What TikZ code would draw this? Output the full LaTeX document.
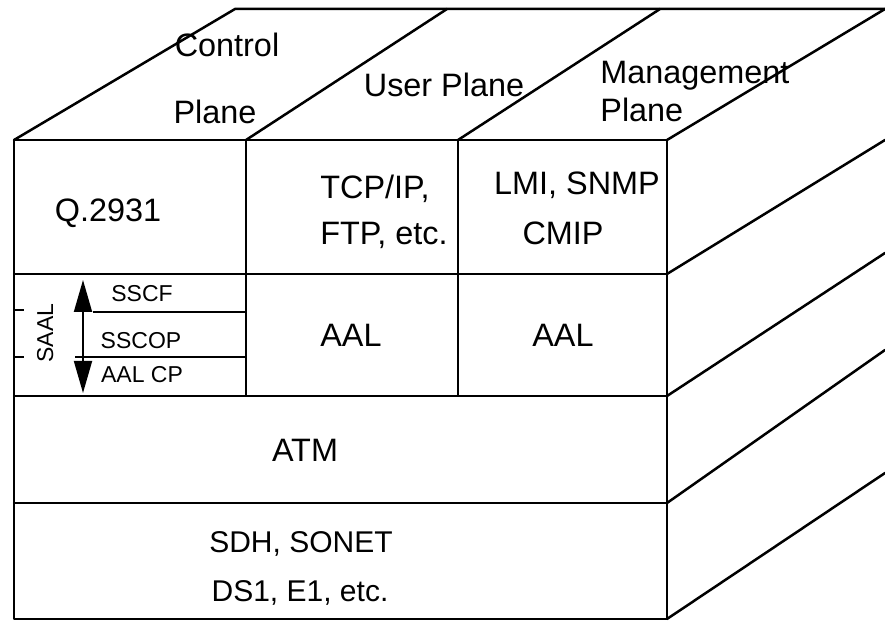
\documentclass[tikz,border=0pt]{standalone}
\usepackage{fontspec}
\setmainfont{Liberation Sans}
\usetikzlibrary{arrows.meta}

\begin{document}
\begin{tikzpicture}[x=0.5pt, y=-0.5pt,
  outline/.style={line width=1.25pt, line join=round, line cap=round},
  inner/.style={line width=0.9pt},
  lbl/.style={inner sep=0pt, text height=11.4pt, text depth=0pt, font=\fontsize{16.2}{19}\selectfont},
  low/.style={lbl, font=\fontsize{15}{18}\selectfont},
  sub/.style={inner sep=0pt, text height=8.2pt, text depth=0pt, font=\fontsize{11.5}{13}\selectfont},
  saal/.style={{Triangle[length=16pt, width=9pt]}-{Triangle[length=16pt, width=9pt]}, line width=0.9pt}
]
\useasboundingbox (0,0) rectangle (885,625);
\coordinate (ftl) at (14,140);
\coordinate (ftr) at (667,140);
\coordinate (fbl) at (14,619);
\coordinate (fbr) at (667,619);
\coordinate (btl) at (235,9);
\coordinate (btr) at (885,9);
\coordinate (c1) at (246,140);
\coordinate (c2) at (458,140);
\coordinate (c1b) at (447,9);
\coordinate (c2b) at (660,9);
\coordinate (r1l) at (14,274);
\coordinate (r1r) at (667,274);
\coordinate (r2l) at (14,396);
\coordinate (r2r) at (667,396);
\coordinate (r3l) at (14,503);
\coordinate (r3r) at (667,503);
\coordinate (c1d) at (246,396);
\coordinate (c2d) at (458,396);

\draw[outline] (ftl) rectangle (fbr);
\draw[outline] (ftl) -- (btl) -- (btr);
\draw[outline] (ftr) -- (btr);
\draw[outline] (c1) -- (c1b);
\draw[outline] (c2) -- (c2b);
\draw[outline] (r1l) -- (r1r);
\draw[outline] (r2l) -- (r2r);
\draw[outline] (r3l) -- (r3r);
\draw[inner] (c1) -- (c1d);
\draw[inner] (c2) -- (c2d);
\draw[outline] (r1r) -- (885,140);
\draw[outline] (r2r) -- (885,253);
\draw[outline] (r3r) -- (885,350);
\draw[outline] (fbr) -- (885,473);

\node[lbl] (ctrl) at (227,45) {Control};
\node[lbl] (ctrlp) at (215,112) {Plane};
\node[lbl] (user) at (444,85) {User Plane};
\node[lbl, anchor=west] (mgmt) at (600,72) {Management};
\node[lbl, anchor=west] (mgmtp) at (600,110) {Plane};

\node[lbl] (q2931) at (108,210) {Q.2931};
\node[lbl, anchor=west] (tcpip) at (320,187) {TCP/IP,};
\node[lbl, anchor=west] (ftp) at (320,233) {FTP, etc.};
\node[lbl] (lmi) at (577,183) {LMI, SNMP};
\node[lbl] (cmip) at (563,233) {CMIP};
\node[lbl] (aalu) at (351,335) {AAL};
\node[lbl] (aalm) at (563,335) {AAL};
\node[lbl] (atm) at (305,450) {ATM};
\node[low] (sdh) at (301,541) {SDH, SONET};
\node[low] (ds1) at (300,590) {DS1, E1, etc.};

\coordinate (saaltop) at (83,280);
\coordinate (saalbot) at (83,393);
\draw[saal] (saaltop) -- (saalbot);
\draw[inner] (93,312) -- (246,312);
\draw[inner] (75,357) -- (246,357);
\draw[inner] (14,310) -- (24,310);
\draw[inner] (14,357) -- (24,357);
\node[sub, rotate=90] (saallbl) at (45,333) {SAAL};
\node[sub] (sscf) at (142,293) {SSCF};
\node[sub] (sscop) at (141,340) {SSCOP};
\node[sub] (aalcp) at (142,374) {AAL CP};
\end{tikzpicture}
\end{document}
